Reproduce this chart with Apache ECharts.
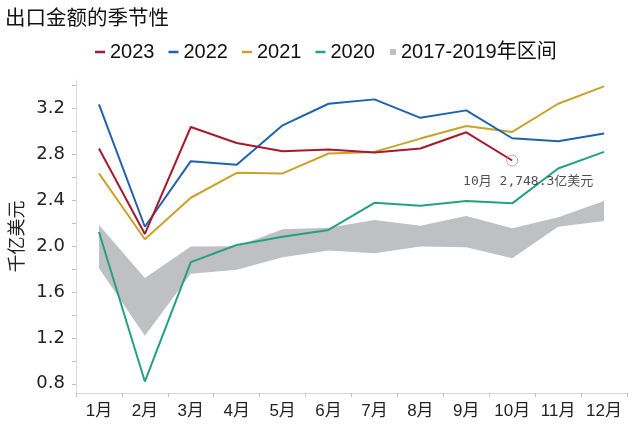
<!DOCTYPE html>
<html><head><meta charset="utf-8">
<script src="https://cdn.jsdelivr.net/npm/echarts@6/dist/echarts.min.js"></script>
<style>html,body{margin:0;padding:0;background:#fff}#c{width:640px;height:430px}</style>
</head><body><div id="c"></div>
<script>
const months = ['1月','2月','3月','4月','5月','6月','7月','8月','9月','10月','11月','12月'];
const y2023 = [2.852,2.107,3.040,2.900,2.829,2.843,2.817,2.852,2.994,2.748];
const y2022 = [3.237,2.170,2.742,2.710,3.055,3.243,3.281,3.120,3.185,2.942,2.916,2.983];
const y2021 = [2.635,2.061,2.423,2.640,2.635,2.809,2.823,2.939,3.049,2.997,3.243,3.394];
const y2020 = [2.124,0.820,1.861,2.011,2.083,2.142,2.379,2.353,2.394,2.374,2.678,2.823];
const bandLow  = [1.809,1.220,1.760,1.794,1.904,1.962,1.939,1.997,1.991,1.896,2.171,2.220];
const bandHigh = [2.185,1.722,1.997,2.000,2.148,2.162,2.229,2.179,2.263,2.156,2.252,2.394];
const yTickValues = [0.8,1.0,1.2,1.4,1.6,1.8,2.0,2.2,2.4,2.6,2.8,3.0,3.2,3.4];
const yLabelValues = [0.8,1.2,1.6,2.0,2.4,2.8,3.2];
const noteText = '10月 2,748.3亿美元';

const colors = {'2023':'#A6192E','2022':'#1F63B0','2021':'#C9A22A','2020':'#26A085', band:'#BFC0C2'};
const lastIdx = y2023.length - 1;

const chart = echarts.init(document.getElementById('c'), null, {renderer:'canvas'});
const lineSeries = (name, data) => ({
  name, type:'line', data, symbol:'none', smooth:false,
  lineStyle:{width:2, color:colors[name]}, itemStyle:{color:colors[name]}, z:3
});
chart.setOption({
  animation:false,
  title:{text:'出口金额的季节性', left:5, top:7, padding:0,
    textStyle:{fontSize:20.5, fontWeight:'normal', color:'#111', fontFamily:"'Noto Sans CJK SC', sans-serif"}},
  legend:[{
    data:['2023','2022','2021','2020'], left:95, top:42, padding:0, icon:'rect',
    itemWidth:10, itemHeight:2.5, itemGap:14,
    textStyle:{fontSize:20, color:'#111', fontFamily:"'Liberation Sans', Arial, sans-serif"}
  },{
    data:[{name:'2017-2019年区间', icon:'rect'}], left:390, top:42, padding:0,
    itemWidth:6, itemHeight:6,
    textStyle:{fontSize:20, color:'#111', fontFamily:"'Liberation Sans', 'Noto Sans CJK SC', sans-serif"}
  }],
  grid:{left:76, right:13, top:80, bottom:37, containLabel:false, outerBoundsMode:'none'},
  xAxis:{
    type:'category', data:months, boundaryGap:true,
    axisLine:{lineStyle:{color:'#d9d9d9', width:1}},
    axisTick:{show:true, length:4, lineStyle:{color:'#bfbfbf'}},
    axisLabel:{fontSize:17, color:'#222', margin:10, interval:0,
      fontFamily:"'Liberation Sans', 'Noto Sans CJK SC', sans-serif"}
  },
  yAxis:{
    type:'value', min:0.72, max:3.45,
    name:'千亿美元', nameLocation:'middle', nameGap:42, nameRotate:90,
    nameTextStyle:{fontSize:18, color:'#222', fontFamily:"'Noto Sans CJK SC', sans-serif"},
    splitLine:{show:false},
    axisLine:{show:true, lineStyle:{color:'#d9d9d9', width:1}},
    axisTick:{show:true, length:4, customValues:yTickValues, lineStyle:{color:'#bfbfbf'}},
    axisLabel:{customValues:yLabelValues, fontSize:18, color:'#222', margin:11,
      fontFamily:"'DejaVu Sans', sans-serif",
      formatter:v => Number(v).toFixed(1)}
  },
  series:[
    {name:'bandLow', type:'line', stack:'band', data:bandLow, symbol:'none',
     lineStyle:{width:0, opacity:0}, z:1, silent:true},
    {name:'2017-2019年区间', type:'line', stack:'band', symbol:'none',
     data:bandHigh.map((v,i)=> +(v - bandLow[i]).toFixed(3)),
     lineStyle:{width:0, opacity:0}, itemStyle:{color:colors.band},
     areaStyle:{color:colors.band, opacity:1}, z:1, silent:true},
    lineSeries('2020', y2020),
    lineSeries('2021', y2021),
    lineSeries('2022', y2022),
    lineSeries('2023', y2023),
    {name:'note', type:'scatter', z:5,
     data:[[months[lastIdx], y2023[lastIdx]]],
     symbol:'circle', symbolSize:11,
     itemStyle:{color:'rgba(255,255,255,0)', borderColor:'#9a9a9a', borderWidth:1},
     label:{show:true, position:'bottom', distance:9, offset:[16,0],
       formatter:noteText, fontSize:13, color:'#222',
       fontFamily:"'DejaVu Sans Mono', 'Noto Sans CJK SC', monospace"}}
  ]
});
</script>
</body></html>
